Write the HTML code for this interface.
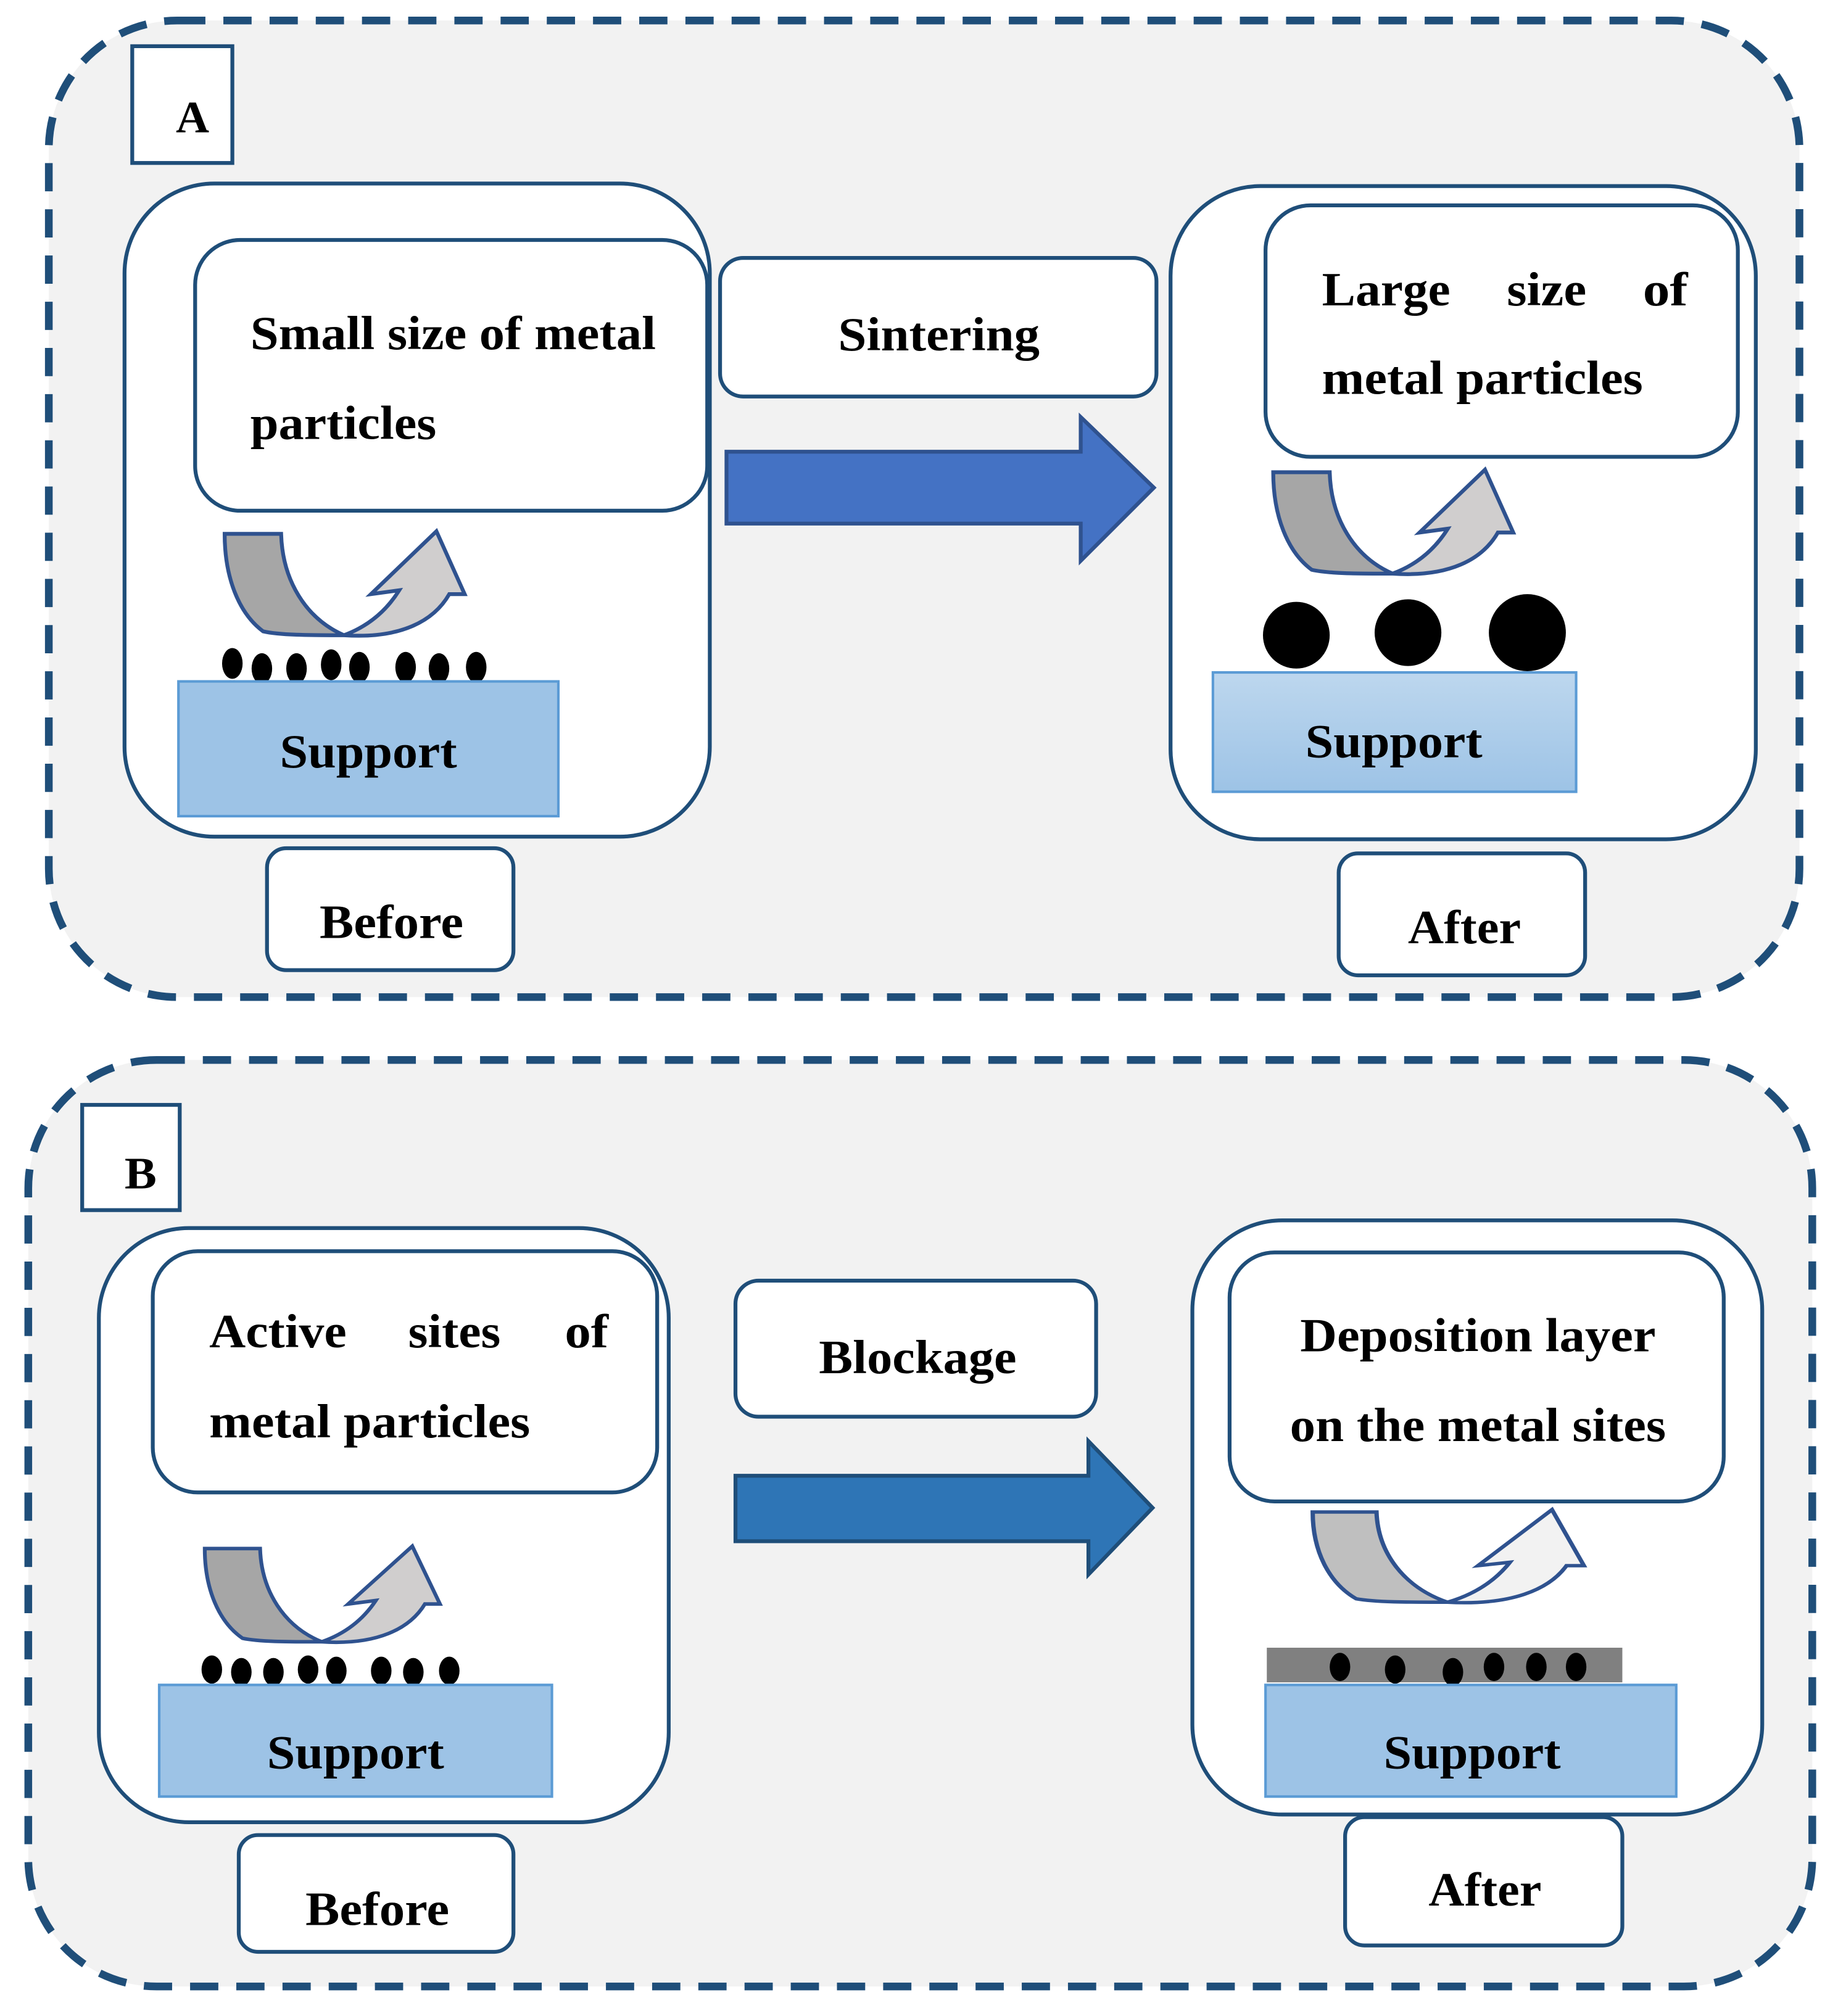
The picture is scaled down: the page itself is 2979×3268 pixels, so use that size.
<!DOCTYPE html>
<html><head><meta charset="utf-8"><style>html,body{margin:0;padding:0;background:#fff}svg{display:block}</style></head>
<body>
<svg width="2979" height="3268" viewBox="0 0 1432 1571" xmlns="http://www.w3.org/2000/svg" font-family="Liberation Serif, serif" font-weight="bold">
<defs>
<linearGradient id="g1" x1="0" y1="0" x2="0" y2="1"><stop offset="0" stop-color="#bdd7ee"/><stop offset="1" stop-color="#9dc3e6"/></linearGradient>
<g id="carrow">
<path d="M175,416 L219,416 C220,452 238,482 268,495 C240,495 218,495 205,492 C186,478 175,450 175,416 Z" fill="var(--c1)" stroke="#2f528f" stroke-width="3"/>
<path d="M268,495 C287,488 301,476 311,460 L289,463 L340,414 L362,463 L350,463 C338,484 312,498 268,495 Z" fill="var(--c2)" stroke="#2f528f" stroke-width="3"/>
</g>
</defs>
<rect width="1432" height="1571" fill="#fff"/>
<!-- Panel A -->
<rect x="38" y="16" width="1364" height="761" rx="100" fill="#f2f2f2" stroke="#1f4e79" stroke-width="6" stroke-dasharray="22 14"/>
<rect x="103" y="36" width="78" height="91" fill="#fff" stroke="#1f4e79" stroke-width="3"/>
<text x="137" y="103" font-size="35" textLength="26" lengthAdjust="spacingAndGlyphs">A</text>
<rect x="97" y="143" width="456" height="509" rx="70" fill="#fff" stroke="#1f4e79" stroke-width="3"/>
<rect x="152" y="187" width="399" height="211" rx="35" fill="#fff" stroke="#1f4e79" stroke-width="3"/>
<text x="195" y="272" font-size="37" textLength="316" lengthAdjust="spacingAndGlyphs">Small size of metal</text>
<text x="195" y="342" font-size="37" textLength="145" lengthAdjust="spacingAndGlyphs">particles</text>
<g style="--c1:#a6a6a6;--c2:#d0cece"><use href="#carrow"/></g>
<g fill="#000">
<ellipse cx="181" cy="517" rx="8" ry="12"/><ellipse cx="204" cy="521" rx="8" ry="12"/><ellipse cx="231" cy="521" rx="8" ry="12"/><ellipse cx="258" cy="518" rx="8" ry="12"/><ellipse cx="280" cy="520" rx="8" ry="12"/><ellipse cx="316" cy="520" rx="8" ry="12"/><ellipse cx="342" cy="521" rx="8" ry="12"/><ellipse cx="371" cy="520" rx="8" ry="12"/>
</g>
<rect x="139" y="531" width="296" height="105" fill="#9dc3e6" stroke="#5b9bd5" stroke-width="2"/>
<text x="218" y="598" font-size="37" textLength="138" lengthAdjust="spacingAndGlyphs">Support</text>
<rect x="208" y="661" width="192" height="95" rx="15" fill="#fff" stroke="#1f4e79" stroke-width="3"/>
<text x="249" y="731" font-size="37" textLength="112" lengthAdjust="spacingAndGlyphs">Before</text>
<rect x="561" y="201" width="340" height="108" rx="18" fill="#fff" stroke="#1f4e79" stroke-width="3"/>
<text x="653" y="273" font-size="37" textLength="157" lengthAdjust="spacingAndGlyphs">Sintering</text>
<path d="M566,352 L842,352 L842,325 L899,380 L842,437 L842,408 L566,408 Z" fill="#4472c4" stroke="#2f528f" stroke-width="3"/>
<rect x="912" y="145" width="456" height="509" rx="70" fill="#fff" stroke="#1f4e79" stroke-width="3"/>
<rect x="986" y="160" width="368" height="196" rx="35" fill="#fff" stroke="#1f4e79" stroke-width="3"/>
<text x="1030" y="238" font-size="37" textLength="100" lengthAdjust="spacingAndGlyphs">Large</text>
<text x="1174" y="238" font-size="37" textLength="62" lengthAdjust="spacingAndGlyphs">size</text>
<text x="1280" y="238" font-size="37" textLength="35" lengthAdjust="spacingAndGlyphs">of</text>
<text x="1030" y="307" font-size="37" textLength="250" lengthAdjust="spacingAndGlyphs">metal particles</text>
<g style="--c1:#a6a6a6;--c2:#d0cece" transform="translate(817,-48)"><use href="#carrow"/></g>
<circle cx="1010" cy="495" r="26"/><circle cx="1097" cy="493" r="26"/><circle cx="1190" cy="493" r="30"/>
<rect x="945" y="524" width="283" height="93" fill="url(#g1)" stroke="#5b9bd5" stroke-width="2"/>
<text x="1017" y="590" font-size="37" textLength="138" lengthAdjust="spacingAndGlyphs">Support</text>
<rect x="1043" y="665" width="192" height="95" rx="15" fill="#fff" stroke="#1f4e79" stroke-width="3"/>
<text x="1097" y="735" font-size="37" textLength="88" lengthAdjust="spacingAndGlyphs">After</text>
<!-- Panel B -->
<rect x="22" y="826" width="1390" height="722" rx="100" fill="#f2f2f2" stroke="#1f4e79" stroke-width="6" stroke-dasharray="22 14"/>
<rect x="64" y="861" width="76" height="82" fill="#fff" stroke="#1f4e79" stroke-width="3"/>
<text x="97" y="926" font-size="35" textLength="25" lengthAdjust="spacingAndGlyphs">B</text>
<rect x="77" y="957" width="444" height="463" rx="70" fill="#fff" stroke="#1f4e79" stroke-width="3"/>
<rect x="119" y="975" width="393" height="188" rx="35" fill="#fff" stroke="#1f4e79" stroke-width="3"/>
<text x="163" y="1050" font-size="37" textLength="107" lengthAdjust="spacingAndGlyphs">Active</text>
<text x="318" y="1050" font-size="37" textLength="72" lengthAdjust="spacingAndGlyphs">sites</text>
<text x="440" y="1050" font-size="37" textLength="34" lengthAdjust="spacingAndGlyphs">of</text>
<text x="163" y="1120" font-size="37" textLength="250" lengthAdjust="spacingAndGlyphs">metal particles</text>
<g style="--c1:#a6a6a6;--c2:#d0cece" transform="translate(-12,824) scale(0.98,0.92)"><use href="#carrow"/></g>
<g fill="#000">
<ellipse cx="165" cy="1301" rx="8" ry="11"/><ellipse cx="188" cy="1303" rx="8" ry="11"/><ellipse cx="213" cy="1303" rx="8" ry="11"/><ellipse cx="240" cy="1301" rx="8" ry="11"/><ellipse cx="262" cy="1302" rx="8" ry="11"/><ellipse cx="297" cy="1302" rx="8" ry="11"/><ellipse cx="322" cy="1303" rx="8" ry="11"/><ellipse cx="350" cy="1302" rx="8" ry="11"/>
</g>
<rect x="124" y="1313" width="306" height="87" fill="#9dc3e6" stroke="#5b9bd5" stroke-width="2"/>
<text x="208" y="1378" font-size="37" textLength="138" lengthAdjust="spacingAndGlyphs">Support</text>
<rect x="186" y="1430" width="214" height="91" rx="15" fill="#fff" stroke="#1f4e79" stroke-width="3"/>
<text x="238" y="1500" font-size="37" textLength="112" lengthAdjust="spacingAndGlyphs">Before</text>
<rect x="573" y="998" width="281" height="106" rx="18" fill="#fff" stroke="#1f4e79" stroke-width="3"/>
<text x="638" y="1070" font-size="37" textLength="154" lengthAdjust="spacingAndGlyphs">Blockage</text>
<path d="M573,1150 L848,1150 L848,1123 L898,1175 L848,1227 L848,1201 L573,1201 Z" fill="#2e75b6" stroke="#1f4e79" stroke-width="3"/>
<rect x="929" y="951" width="444" height="463" rx="70" fill="#fff" stroke="#1f4e79" stroke-width="3"/>
<rect x="958" y="976" width="385" height="194" rx="35" fill="#fff" stroke="#1f4e79" stroke-width="3"/>
<text x="1013" y="1053" font-size="37" textLength="277" lengthAdjust="spacingAndGlyphs">Deposition layer</text>
<text x="1005" y="1123" font-size="37" textLength="293" lengthAdjust="spacingAndGlyphs">on the metal sites</text>
<g style="--c1:#bfbfbf;--c2:#f2f2f2" transform="translate(825,808) scale(1.13,0.89)"><use href="#carrow"/></g>
<rect x="987" y="1284" width="277" height="27" fill="#808080"/>
<g fill="#000">
<ellipse cx="1044" cy="1299" rx="8" ry="11"/><ellipse cx="1087" cy="1301" rx="8" ry="11"/><ellipse cx="1132" cy="1303" rx="8" ry="11"/><ellipse cx="1164" cy="1299" rx="8" ry="11"/><ellipse cx="1197" cy="1299" rx="8" ry="11"/><ellipse cx="1228" cy="1299" rx="8" ry="11"/>
</g>
<rect x="986" y="1313" width="320" height="87" fill="#9dc3e6" stroke="#5b9bd5" stroke-width="2"/>
<text x="1078" y="1378" font-size="37" textLength="138" lengthAdjust="spacingAndGlyphs">Support</text>
<rect x="1048" y="1416" width="216" height="100" rx="15" fill="#fff" stroke="#1f4e79" stroke-width="3"/>
<text x="1113" y="1485" font-size="37" textLength="88" lengthAdjust="spacingAndGlyphs">After</text>
</svg>
</body></html>
